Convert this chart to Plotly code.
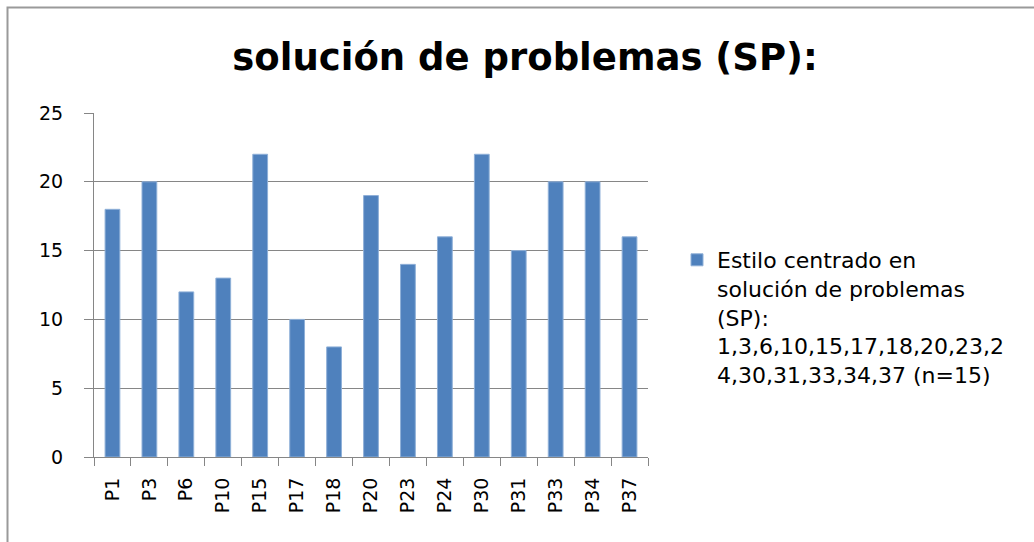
import plotly.graph_objects as go

categories = ["P1", "P3", "P6", "P10", "P15", "P17", "P18", "P20", "P23", "P24",
              "P30", "P31", "P33", "P34", "P37"]
values = [18, 20, 12, 13, 22, 10, 8, 19, 14, 16, 22, 15, 20, 20, 16]
series_name = ("Estilo centrado en<br>solución de problemas<br>(SP):<br>"
               "1,3,6,10,15,17,18,20,23,2<br>4,30,31,33,34,37 (n=15)")
title_text = "solución de problemas (SP):"
y_ticks = [0, 5, 10, 15, 20, 25]

W, H = 1034, 542
L, R, T, B = 94, 386, 113, 85
pw, ph = W - L - R, H - T - B

def px_x(x):
    return (x - L) / pw

def px_y(y):
    return (H - B - y) / ph

fig = go.Figure()
fig.add_trace(go.Bar(
    x=categories, y=values, name=series_name,
    marker=dict(color="#4F81BD", line=dict(color="#8fb0d8", width=1)),
    showlegend=True,
))

fig.update_layout(
    width=W, height=H,
    margin=dict(l=L, r=R, t=T, b=B),
    paper_bgcolor="white", plot_bgcolor="white",
    bargap=0.6,
    title=dict(text=title_text, x=525 / W, xanchor="center",
               y=1 - 57 / H, yanchor="middle",
               font=dict(family="DejaVu Sans", size=37, color="black", weight="bold")),
    font=dict(family="DejaVu Sans", color="black"),
    legend=dict(x=px_x(677), y=px_y(239), xanchor="left", yanchor="top",
                valign="top",
                font=dict(family="DejaVu Sans", size=22, color="black"),
                bgcolor="rgba(0,0,0,0)", itemwidth=30, tracegroupgap=0),
    xaxis=dict(
        type="category", showline=True, linecolor="#868686", linewidth=1,
        ticks="outside", tickson="boundaries", ticklen=8, tickcolor="#868686",
        tickangle=-90, tickfont=dict(family="DejaVu Sans", size=19, color="black"),
        showgrid=False, mirror=False, ticklabelstandoff=12, automargin=False,
    ),
    yaxis=dict(
        range=[0, 25], tickvals=y_ticks, showline=True, linecolor="#868686",
        linewidth=1, ticks="outside", ticklen=9, tickcolor="#868686",
        showgrid=True, gridcolor="#868686", gridwidth=1, zeroline=False,
        tickfont=dict(family="DejaVu Sans", size=19, color="black"),
        ticklabelstandoff=17, automargin=False,
    ),
    shapes=[dict(type="rect", xref="paper", yref="paper",
                 x0=px_x(7.5), x1=px_x(W + 20), y0=px_y(H + 20), y1=px_y(7.5),
                 line=dict(color="#9a9a9a", width=2), fillcolor="rgba(0,0,0,0)",
                 layer="below")],
)

fig.write_html("out.html", config={"displayModeBar": False},
               post_script="document.body.style.margin='0';document.body.style.padding='0';")
